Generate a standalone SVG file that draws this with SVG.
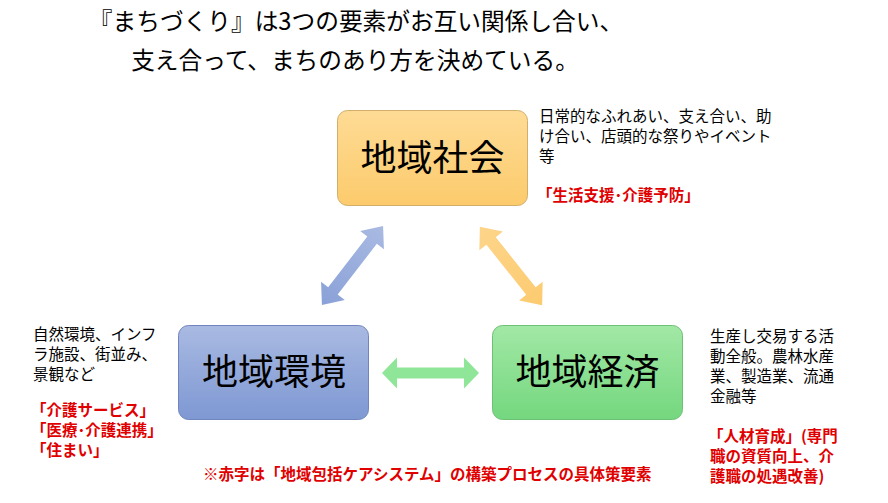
<svg xmlns="http://www.w3.org/2000/svg" width="888" height="503" viewBox="0 0 888 503">
<defs>
<linearGradient id="gOrange" x1="0" y1="0" x2="0" y2="1"><stop offset="0" stop-color="#FEDB95"/><stop offset="1" stop-color="#FCCB6C"/></linearGradient>
<linearGradient id="gBlue" x1="0" y1="0" x2="0" y2="1"><stop offset="0" stop-color="#A9BAE2"/><stop offset="1" stop-color="#7E98D3"/></linearGradient>
<linearGradient id="gGreen" x1="0" y1="0" x2="0" y2="1"><stop offset="0" stop-color="#A2E8A6"/><stop offset="1" stop-color="#74D77E"/></linearGradient>
<linearGradient id="aBlue" x1="0" y1="0" x2="1" y2="0"><stop offset="0" stop-color="#8AA1D8"/><stop offset="1" stop-color="#A9BAE2"/></linearGradient>
<linearGradient id="aOrange" x1="0" y1="0" x2="1" y2="0"><stop offset="0" stop-color="#FDD58A"/><stop offset="1" stop-color="#FCCB70"/></linearGradient>
<polygon id="dbl" points="-50,0 -32,-15 -32,-6 32,-6 32,-15 50,0 32,15 32,6 -32,6 -32,15"/>
</defs>
<style>
text{font-family:"Noto Sans CJK JP","Noto Sans CJK SC",sans-serif;}
.title{font-size:23.7px;fill:#000;text-anchor:middle;}
.lbl{font-size:36px;fill:#000;text-anchor:middle;}
.desc{font-size:15.5px;fill:#000;}
.red{font-size:15.5px;fill:#E00000;font-weight:bold;}
.box{stroke-width:1;}
</style>
<rect width="888" height="503" fill="#FFFFFF"/>
<g id="title">
<text class="title" x="356" y="30">『まちづくり』は3つの要素がお互い関係し合い、<tspan x="355" y="69">支え合って、まちのあり方を決めている。</tspan></text>
</g>
<g id="connectors">
<use href="#dbl" fill="url(#aBlue)" transform="translate(352.5,265.5) rotate(-52.3)"/>
<use href="#dbl" fill="url(#aOrange)" transform="translate(511,266) rotate(51.5)"/>
<polygon fill="#8FE598" points="382,373 397,357.5 397,367.5 464,367.5 464,357.5 479,373 464,388.5 464,378.5 397,378.5 397,388.5"/>
</g>
<g id="node-society">
<rect class="box" x="337.5" y="110.5" width="190" height="95" rx="10" fill="url(#gOrange)" stroke="#D1AE6A"/>
<text class="lbl" x="432.5" y="171">地域社会</text>
</g>
<g id="node-environment">
<rect class="box" x="178.5" y="325.5" width="190" height="94" rx="10" fill="url(#gBlue)" stroke="#7185BC"/>
<text class="lbl" x="274" y="385">地域環境</text>
</g>
<g id="node-economy">
<rect class="box" x="492.5" y="325.5" width="190" height="94" rx="10" fill="url(#gGreen)" stroke="#6EC074"/>
<text class="lbl" x="587.5" y="385">地域経済</text>
</g>
<g id="desc-society">
<text class="desc" x="539" y="122">日常的なふれあい、支え合い、助<tspan x="539" y="142">け合い、店頭的な祭りやイベント</tspan><tspan x="539" y="162">等</tspan></text>
<text class="red" x="537" y="201">「生活支援･介護予防」</text>
</g>
<g id="desc-environment">
<text class="desc" x="33" y="340">自然環境、インフ<tspan x="33" y="360">ラ施設、街並み、</tspan><tspan x="33" y="380">景観など</tspan></text>
<text class="red" x="31" y="416">「介護サービス」<tspan x="31" y="436">「医療･介護連携」</tspan><tspan x="31" y="456">「住まい」</tspan></text>
</g>
<g id="desc-economy">
<text class="desc" x="710" y="342">生産し交易する活<tspan x="710" y="362">動全般。農林水産</tspan><tspan x="710" y="382">業、製造業、流通</tspan><tspan x="710" y="402">金融等</tspan></text>
<text class="red" x="708" y="442">「人材育成」(専門<tspan x="710" y="462">職の資質向上、介</tspan><tspan x="710" y="482">護職の処遇改善)</tspan></text>
</g>
<g id="note">
<text class="red" x="203" y="480">※赤字は「地域包括ケアシステム」の構築プロセスの具体策要素</text>
</g>
</svg>
